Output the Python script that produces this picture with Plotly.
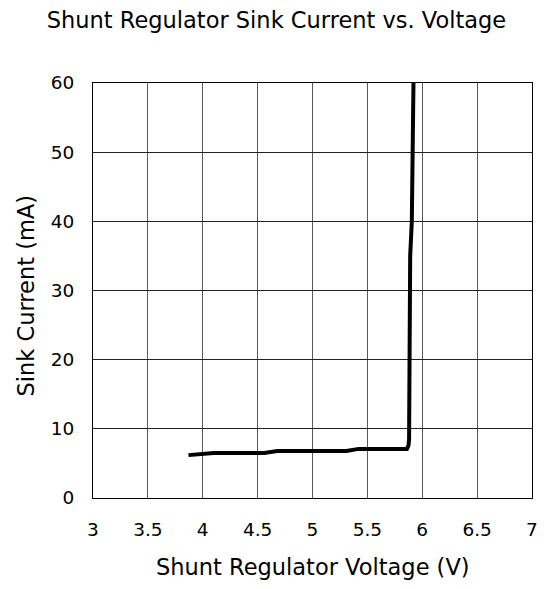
import plotly.graph_objects as go

voltage = [3.87, 4.1, 4.56, 4.68, 5.31, 5.42, 5.86, 5.875, 5.88, 5.89, 5.905, 5.91, 5.92]
current = [6.2, 6.5, 6.5, 6.8, 6.8, 7.1, 7.1, 7.6, 8.5, 35, 40, 55, 60]

x_ticks = [3, 3.5, 4, 4.5, 5, 5.5, 6, 6.5, 7]
x_labels = ["3", "3.5", "4", "4.5", "5", "5.5", "6", "6.5", "7"]
y_ticks = [0, 10, 20, 30, 40, 50, 60]

W, H = 537, 573
fig = go.Figure()
fig.add_trace(go.Scatter(x=voltage, y=current, mode="lines",
                         line=dict(color="black", width=4), showlegend=False,
                         cliponaxis=False))

font = "DejaVu Sans, Liberation Sans, Arial, sans-serif"
fig.update_layout(
    width=W, height=H,
    margin=dict(l=85, r=7, t=75, b=83),
    paper_bgcolor="white", plot_bgcolor="white",
    font=dict(family=font, color="black"),
    title=dict(text="Shunt Regulator Sink Current vs. Voltage", x=0.5, xanchor="center",
               y=1 - 12.5 / H, yanchor="middle", font=dict(size=22.5, family=font, color="black")),
    xaxis=dict(range=[3, 7], tickvals=x_ticks, ticktext=x_labels, showgrid=True,
               gridcolor="#5a5a5a", gridwidth=1.3, showline=True, linecolor="black", linewidth=1,
               mirror=True, ticks="", tickfont=dict(size=18.5), zeroline=False,
               ticklabelstandoff=15),
    yaxis=dict(range=[0, 60], tickvals=y_ticks, showgrid=True,
               gridcolor="#222222", gridwidth=1, showline=True, linecolor="black", linewidth=1,
               mirror=True, ticks="", tickfont=dict(size=18.5), zeroline=False,
               ticklabelstandoff=14),
    annotations=[
        dict(text="Shunt Regulator Voltage (V)", xref="paper", yref="paper", x=0.5, y=0,
             xanchor="center", yanchor="middle", yshift=-69, showarrow=False,
             font=dict(size=22.5, family=font, color="black")),
        dict(text="Sink Current (mA)", xref="paper", yref="paper", x=0, y=0.5,
             xanchor="center", yanchor="middle", xshift=-68, yshift=-5, textangle=-90,
             showarrow=False, font=dict(size=22.5, family=font, color="black")),
    ],
)
fig.write_html("out.html")
